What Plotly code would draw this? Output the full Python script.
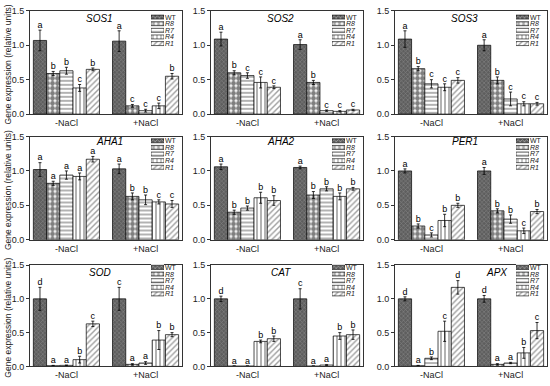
import plotly.graph_objects as go

genes = ["SOS1", "SOS2", "SOS3", "AHA1", "AHA2", "PER1", "SOD", "CAT", "APX"]
genotypes = ["WT", "R8", "R7", "R4", "R1"]
treatments = ["-NaCl", "+NaCl"]
y_ticks = [0.0, 0.5, 1.0, 1.5]

# means / errors / letters: [ [-NaCl x5], [+NaCl x5] ]
sos1_mean = [[1.07, 0.59, 0.63, 0.38, 0.65], [1.06, 0.12, 0.05, 0.12, 0.55]]
sos1_err = [[0.15, 0.03, 0.05, 0.05, 0.02], [0.15, 0.02, 0.02, 0.04, 0.04]]
sos1_sig = [["a", "b", "b", "c", "b"], ["a", "c", "c", "c", "b"]]

sos2_mean = [[1.09, 0.60, 0.56, 0.46, 0.39], [1.01, 0.46, 0.05, 0.04, 0.06]]
sos2_err = [[0.10, 0.03, 0.04, 0.08, 0.02], [0.07, 0.03, 0.01, 0.01, 0.01]]
sos2_sig = [["a", "b", "c", "c", "c"], ["a", "b", "c", "c", "c"]]

sos3_mean = [[1.09, 0.66, 0.44, 0.39, 0.49], [1.00, 0.49, 0.22, 0.15, 0.15]]
sos3_err = [[0.12, 0.03, 0.06, 0.05, 0.04], [0.08, 0.05, 0.10, 0.03, 0.02]]
sos3_sig = [["a", "b", "c", "c", "c"], ["a", "b", "c", "c", "c"]]

aha1_mean = [[1.02, 0.82, 0.94, 0.92, 1.17], [1.03, 0.63, 0.58, 0.55, 0.52]]
aha1_err = [[0.10, 0.03, 0.06, 0.05, 0.04], [0.07, 0.05, 0.07, 0.03, 0.05]]
aha1_sig = [["a", "a", "a", "a", "a"], ["a", "b", "b", "c", "c"]]

aha2_mean = [[1.06, 0.40, 0.46, 0.61, 0.57], [1.05, 0.65, 0.74, 0.63, 0.74]]
aha2_err = [[0.04, 0.03, 0.03, 0.08, 0.07], [0.02, 0.05, 0.03, 0.05, 0.02]]
aha2_sig = [["a", "b", "b", "b", "b"], ["a", "b", "b", "b", "b"]]

per1_mean = [[1.00, 0.20, 0.07, 0.28, 0.50], [1.00, 0.42, 0.30, 0.13, 0.41]]
per1_err = [[0.03, 0.03, 0.03, 0.09, 0.03], [0.05, 0.03, 0.06, 0.04, 0.03]]
per1_sig = [["a", "b", "c", "b", "b"], ["a", "b", "b", "c", "b"]]

sod_mean = [[1.00, 0.01, 0.015, 0.10, 0.63], [1.00, 0.03, 0.05, 0.39, 0.47]]
sod_err = [[0.17, 0.005, 0.005, 0.05, 0.04], [0.17, 0.01, 0.02, 0.14, 0.03]]
sod_sig = [["d", "a", "a", "b", "c"], ["c", "a", "a", "b", "b"]]

cat_mean = [[1.00, 0.005, 0.005, 0.37, 0.41], [1.00, 0.005, 0.02, 0.45, 0.47]]
cat_err = [[0.04, 0.002, 0.002, 0.02, 0.04], [0.15, 0.002, 0.005, 0.05, 0.07]]
cat_sig = [["d", "a", "a", "b", "b"], ["c", "a", "a", "b", "b"]]

apx_mean = [[1.00, 0.01, 0.12, 0.52, 1.17], [1.00, 0.03, 0.05, 0.20, 0.53]]
apx_err = [[0.03, 0.005, 0.02, 0.15, 0.10], [0.05, 0.01, 0.01, 0.08, 0.12]]
apx_sig = [["d", "a", "b", "c", "d"], ["d", "a", "a", "b", "c"]]

means = [sos1_mean, sos2_mean, sos3_mean, aha1_mean, aha2_mean, per1_mean, sod_mean, cat_mean, apx_mean]
errs = [sos1_err, sos2_err, sos3_err, aha1_err, aha2_err, per1_err, sod_err, cat_err, apx_err]
sigs = [sos1_sig, sos2_sig, sos3_sig, aha1_sig, aha2_sig, per1_sig, sod_sig, cat_sig, apx_sig]

# ---- styling ----
W, H = 550, 386
FONT = "Arial, Liberation Sans, sans-serif"
col_px = [(30, 182), (211, 363), (395, 547)]
row_px = [(6, 112), (135, 241), (267, 371)]
legend_row_px = [(9, 43), (136, 170), (266, 300)]
title_frac = [0.46, 0.46, 0.46, 0.52, 0.46, 0.46, 0.46, 0.46, 0.67]
title_dy = [8, 5, 8]

bar_w = 0.167
offsets = [(i - 2) * bar_w for i in range(5)]

bg_colors = ["#5e5e5e", "white", "white", "white", "white"]
fg_colors = ["#a8a8a8", "black", "black", "black", "#404040"]
shapes = ["x", ".", "-", "|", "/"]
psizes = [3, 5, 4, 4, 4]
psolid = [0.35, 0.72, 0.3, 0.3, 0.35]


def px_x(p):
    return p / W


def px_y(p):
    return 1 - p / H


fig = go.Figure()
layout = {}
annotations = []

for k, gene in enumerate(genes):
    r, c = divmod(k, 3)
    n = k + 1
    xa = "x" if n == 1 else f"x{n}"
    ya = "y" if n == 1 else f"y{n}"
    for i, g in enumerate(genotypes):
        xs = [t + offsets[i] for t in range(2)]
        ys = [means[k][t][i] for t in range(2)]
        es = [errs[k][t][i] for t in range(2)]
        fig.add_trace(go.Bar(
            x=xs, y=ys, width=bar_w, xaxis=xa, yaxis=ya, showlegend=False,
            marker=dict(color=bg_colors[i], line=dict(color="black", width=0.7),
                        pattern=dict(shape=shapes[i], fgcolor=fg_colors[i], size=psizes[i],
                                     solidity=psolid[i], fillmode="overlay")),
            error_y=dict(type="data", array=es, color="black", thickness=0.8, width=1.5),
        ))
    lx, ly, lt = [], [], []
    for t in range(2):
        for i in range(5):
            lx.append(t + offsets[i])
            ly.append(means[k][t][i] + errs[k][t][i])
            lt.append(sigs[k][t][i])
    fig.add_trace(go.Scatter(x=lx, y=ly, text=lt, mode="text", textposition="top center",
                             textfont=dict(size=9, color="black", family=FONT),
                             xaxis=xa, yaxis=ya, showlegend=False, cliponaxis=False))

    x0, x1 = col_px[c]
    yt, yb = row_px[r]
    key = "" if n == 1 else str(n)
    layout["xaxis" + key] = dict(
        domain=[px_x(x0), px_x(x1)], range=[-0.46, 1.46], anchor=ya,
        tickvals=[0, 1], ticktext=treatments, ticks="", showgrid=False, zeroline=False,
        showline=True, mirror=True, linecolor="#333", linewidth=1,
        tickfont=dict(size=9, color="#222", family=FONT))
    layout["yaxis" + key] = dict(
        domain=[px_y(yb), px_y(yt)], range=[0, 1.5], anchor=xa,
        tickvals=y_ticks, tickformat=".1f", ticks="outside", ticklen=3, tickcolor="#333",
        showgrid=False, zeroline=False, showline=True, mirror=True, linecolor="#333", linewidth=1,
        tickfont=dict(size=9, color="#222", family=FONT))

    # gene title
    annotations.append(dict(
        text=f"<i>{gene}</i>", x=px_x(x0 + title_frac[k] * (x1 - x0)), y=px_y(yt + title_dy[r]),
        xref="paper", yref="paper", showarrow=False, xanchor="center", yanchor="middle",
        font=dict(size=10, color="black", family=FONT)))

    # legend inset (drawn as small horizontal bars on its own axis)
    m = n + 9
    lxa, lya = f"x{m}", f"y{m}"
    ly0, ly1 = legend_row_px[r]
    fig.add_trace(go.Bar(
        y=genotypes, x=[1] * 5, orientation="h", xaxis=lxa, yaxis=lya, showlegend=False,
        width=0.6, hoverinfo="skip",
        marker=dict(color=bg_colors, line=dict(color="black", width=0.6),
                    pattern=dict(shape=shapes, fgcolor=fg_colors, size=psizes,
                                 solidity=psolid, fillmode="overlay"))))
    layout[f"xaxis{m}"] = dict(domain=[px_x(x1 - 31), px_x(x1 - 18)], range=[0, 1],
                               anchor=lya, visible=False)
    layout[f"yaxis{m}"] = dict(domain=[px_y(ly1), px_y(ly0)], anchor=lxa, side="right",
                               autorange="reversed", type="category", showgrid=False,
                               zeroline=False, showline=False, ticks="",
                               tickvals=genotypes,
                               ticktext=[g if g == "WT" else f"<i>{g}</i>" for g in genotypes],
                               tickfont=dict(size=7, color="#222", family=FONT))

for r in range(3):
    yt, yb = row_px[r]
    annotations.append(dict(
        text="Gene expression (relative units)", x=px_x(8), y=px_y((yt + yb) / 2 + 2),
        xref="paper", yref="paper", showarrow=False, textangle=-90,
        xanchor="center", yanchor="middle", font=dict(size=8.5, color="#222", family=FONT)))

fig.update_layout(width=W, height=H, margin=dict(l=0, r=0, t=0, b=0),
                  plot_bgcolor="white", paper_bgcolor="white", barmode="overlay",
                  annotations=annotations, **layout)

fig.write_html("out.html", config={"displayModeBar": False},
               post_script="document.body.style.margin='0';document.body.style.overflow='hidden';")
